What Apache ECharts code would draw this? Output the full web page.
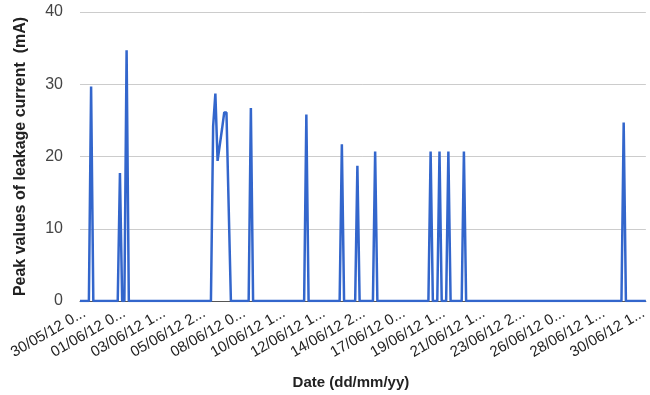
<!DOCTYPE html>
<html>
<head>
<meta charset="utf-8">
<script src="https://cdn.jsdelivr.net/npm/echarts@6/dist/echarts.min.js"></script>
<style>
html,body{margin:0;padding:0;background:#fff;}
#chart{width:650px;height:395px;}
</style>
</head>
<body>
<div id="chart"></div>
<script>
// Tick labels shown on the date axis (as printed, truncated)
const tickLabels = ["30/05/12 0...", "01/06/12 0...", "03/06/12 1...", "05/06/12 2...", "08/06/12 0...",
  "10/06/12 1...", "12/06/12 1...", "14/06/12 2...", "17/06/12 0...", "19/06/12 1...",
  "21/06/12 1...", "23/06/12 2...", "26/06/12 0...", "28/06/12 1...", "30/06/12 1..."];
// Number of recorded samples and label spacing (samples between labels)
const sampleCount = 256;
const labelStep = 18;
const labelOffset = 2;
// Samples with non-zero peak leakage current (sample index, value in mA); all other samples are 0
const peakIndex = [5, 18, 21, 60, 61, 62, 63, 64, 65, 66, 67, 77, 102, 118, 125, 133, 158, 162, 166, 173, 245];
const peakValue = [29.7, 17.7, 34.7, 24.2, 28.7, 19.4, 21.6, 23.8, 26.1, 26.1, 13.0, 26.7, 25.8, 21.7, 18.7, 20.7, 20.7, 20.7, 20.7, 20.7, 24.7];
const yTicks = [0, 10, 20, 30, 40];

const categories = [];
const values = [];
for (let i = 0; i < sampleCount; i++) {
  const k = (i - labelOffset) / labelStep;
  categories.push(Number.isInteger(k) && k >= 0 && k < tickLabels.length ? tickLabels[k] : 's' + i);
  values.push(0);
}
peakIndex.forEach((idx, j) => { values[idx] = peakValue[j]; });

const chart = echarts.init(document.getElementById('chart'), null, {renderer: 'canvas'});
chart.setOption({
  animation: false,
  grid: {left: 80, right: 4, top: 12, bottom: 92},
  xAxis: {
    type: 'category',
    data: categories,
    boundaryGap: false,
    name: 'Date (dd/mm/yy)',
    nameLocation: 'middle',
    nameGap: 74,
    nameTextStyle: {fontFamily: 'Liberation Sans, Arial', fontWeight: 'bold', fontSize: 15, color: '#222', padding: [0, 24, 0, 0]},
    axisLine: {show: true, lineStyle: {color: '#555', width: 1}},
    axisTick: {show: false},
    splitLine: {show: false},
    axisLabel: {
      interval: function (i) { const k = (i - labelOffset) / labelStep; return Number.isInteger(k) && k >= 0; },
      rotate: 30,
      margin: 11,
      fontFamily: 'Liberation Sans, Arial',
      fontSize: 15,
      color: '#222'
    }
  },
  yAxis: {
    type: 'value',
    min: yTicks[0],
    max: yTicks[yTicks.length - 1],
    interval: 10,
    name: 'Peak values of leakage current  (mA)',
    nameLocation: 'middle',
    nameGap: 51,
    nameTextStyle: {fontFamily: 'Liberation Sans, Arial', fontWeight: 'bold', fontSize: 16, color: '#222'},
    axisLine: {show: false},
    axisTick: {show: false},
    splitLine: {lineStyle: {color: '#cccccc', width: 1}},
    axisLabel: {margin: 17, fontFamily: 'Liberation Sans, Arial', fontSize: 16, color: '#444'}
  },
  series: [{
    type: 'line',
    data: values,
    showSymbol: false,
    symbol: 'none',
    lineStyle: {color: '#3366cc', width: 2.5},
    itemStyle: {color: '#3366cc'}
  }]
});
</script>
</body>
</html>
